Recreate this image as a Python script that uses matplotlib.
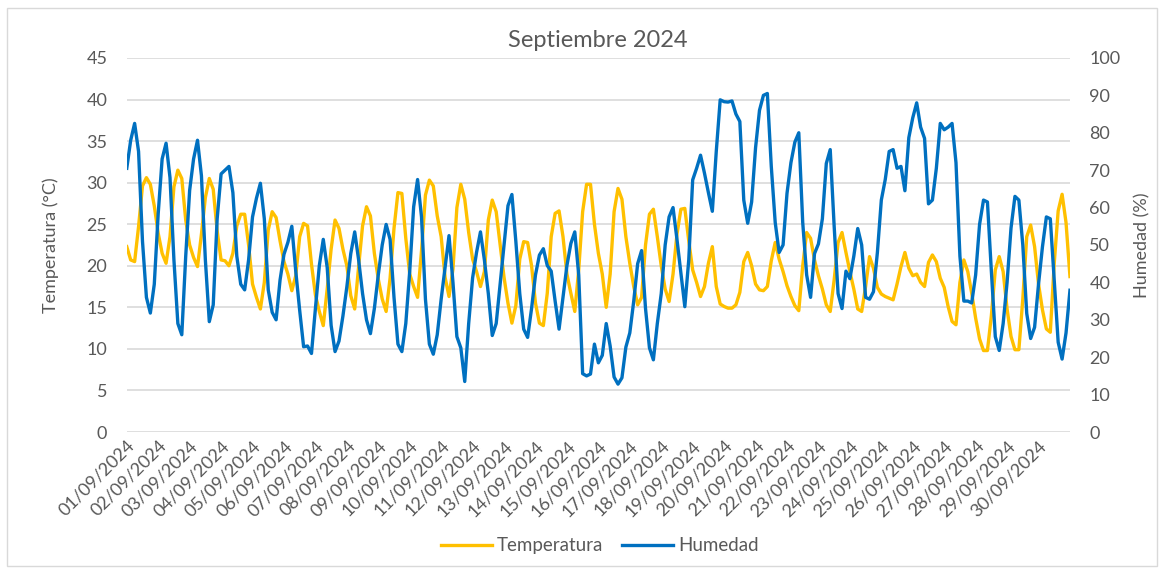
import pandas as pd
import matplotlib
matplotlib.use("Agg")
import matplotlib.pyplot as plt
import matplotlib.dates as mdates
from matplotlib.patches import Rectangle

plt.rcParams['font.family'] = ['Lato', 'DejaVu Sans']

# lecturas cada 3 horas (00, 03, 06, 09, 12, 15, 18, 21 h), una fila por dia
temperatura = [
    22.3, 20.7, 20.5, 24.7, 29.6, 30.6, 29.8, 27.2,   # 01/09
    23.9, 21.5, 20.3, 23.5, 29.5, 31.5, 30.5, 25.5,   # 02/09
    22.5, 21.0, 19.9, 23.8, 28.2, 30.5, 29.2, 24.2,   # 03/09
    20.7, 20.6, 20.0, 21.5, 24.8, 26.2, 26.2, 22.5,   # 04/09
    17.8, 16.2, 14.8, 18.0, 24.3, 26.5, 25.8, 23.0,   # 05/09
    20.5, 19.0, 17.0, 18.8, 23.5, 25.1, 24.8, 20.2,   # 06/09
    16.5, 14.5, 12.8, 17.2, 22.0, 25.5, 24.5, 22.0,   # 07/09
    20.0, 16.4, 14.8, 19.9, 24.8, 27.1, 26.0, 21.5,   # 08/09
    18.4, 16.0, 14.5, 18.5, 24.5, 28.8, 28.7, 23.3,   # 09/09
    19.0, 17.5, 16.2, 21.8, 28.5, 30.3, 29.6, 26.0,   # 10/09
    23.5, 18.6, 16.3, 19.6, 27.0, 29.8, 28.0, 24.0,   # 11/09
    20.8, 19.3, 17.5, 19.3, 25.5, 27.9, 26.5, 22.6,   # 12/09
    18.6, 15.5, 13.1, 15.2, 20.8, 22.9, 22.8, 20.0,   # 13/09
    15.5, 13.1, 12.8, 16.7, 23.5, 26.3, 26.6, 23.5,   # 14/09
    19.0, 16.7, 14.5, 19.5, 26.5, 29.8, 29.8, 25.0,   # 15/09
    21.5, 19.0, 15.0, 19.0, 26.5, 29.3, 28.0, 23.5,   # 16/09
    20.3, 17.5, 15.3, 16.2, 22.5, 26.2, 26.8, 23.5,   # 17/09
    20.0, 17.2, 15.7, 19.0, 23.8, 26.8, 26.9, 23.0,   # 18/09
    19.5, 18.0, 16.3, 17.5, 20.3, 22.3, 17.5, 15.4,   # 19/09
    15.1, 14.9, 14.9, 15.3, 16.8, 20.5, 21.6, 20.0,   # 20/09
    17.8, 17.1, 17.0, 17.5, 20.6, 22.8, 20.8, 19.3,   # 21/09
    17.6, 16.3, 15.2, 14.6, 20.0, 24.0, 23.3, 20.7,   # 22/09
    18.8, 17.2, 15.3, 14.5, 18.3, 22.8, 24.0, 21.6,   # 23/09
    19.3, 17.2, 14.8, 14.5, 17.5, 21.1, 19.7, 17.4,   # 24/09
    16.6, 16.3, 16.1, 15.9, 17.8, 19.9, 21.6, 19.7,   # 25/09
    18.8, 19.0, 18.0, 17.5, 20.4, 21.3, 20.5, 18.5,   # 26/09
    17.4, 15.1, 13.3, 12.9, 18.0, 20.7, 19.3, 16.7,   # 27/09
    13.7, 11.2, 9.8, 9.8, 14.0, 19.5, 21.1, 19.3,     # 28/09
    14.8, 11.5, 9.9, 9.9, 16.0, 23.5, 24.9, 22.3,     # 29/09
    17.8, 14.7, 12.4, 12.0, 20.3, 26.6, 28.6, 25.2,   # 30/09
    18.7,
]

humedad = [
    70.5, 78.0, 82.5, 75.0, 51.0, 36.0, 31.8, 39.5,   # 01/09
    58.4, 73.0, 77.2, 68.0, 46.0, 29.0, 26.0, 47.0,   # 02/09
    64.6, 73.0, 78.0, 68.5, 46.0, 29.5, 34.0, 57.0,   # 03/09
    69.0, 70.0, 71.0, 64.0, 47.0, 39.5, 38.0, 46.0,   # 04/09
    57.5, 62.5, 66.5, 57.0, 38.0, 32.0, 30.0, 40.6,   # 05/09
    47.5, 50.7, 55.0, 43.0, 32.5, 22.8, 23.0, 21.0,   # 06/09
    33.0, 44.5, 51.5, 44.0, 28.5, 21.5, 24.3, 31.0,   # 07/09
    38.8, 47.7, 53.5, 46.0, 37.0, 30.0, 26.3, 33.0,   # 08/09
    42.0, 50.0, 55.5, 51.5, 36.0, 23.5, 21.5, 29.0,   # 09/09
    43.0, 60.2, 67.5, 57.5, 35.5, 23.5, 20.8, 26.0,   # 10/09
    35.5, 44.0, 52.5, 40.0, 25.5, 22.5, 13.5, 29.0,   # 11/09
    41.2, 48.0, 53.5, 46.0, 37.0, 25.8, 29.0, 39.5,   # 12/09
    50.0, 60.5, 63.5, 51.0, 37.0, 27.5, 25.3, 33.0,   # 13/09
    42.0, 47.3, 49.0, 44.5, 43.0, 35.0, 27.5, 36.0,   # 14/09
    44.5, 50.4, 53.5, 42.0, 15.6, 15.0, 15.5, 23.5,   # 15/09
    18.5, 20.5, 29.0, 23.0, 14.7, 12.8, 14.5, 22.7,   # 16/09
    26.5, 35.0, 45.0, 48.5, 33.0, 22.5, 19.3, 29.0,   # 17/09
    37.0, 50.0, 57.5, 60.0, 51.5, 42.5, 33.5, 46.0,   # 18/09
    67.4, 70.5, 74.0, 69.2, 64.0, 59.0, 75.0, 88.8,   # 19/09
    88.3, 88.2, 88.5, 85.0, 83.0, 62.0, 55.8, 61.5,   # 20/09
    76.0, 86.0, 90.0, 90.5, 71.0, 56.0, 48.0, 50.0,   # 21/09
    63.8, 72.0, 77.5, 80.0, 56.0, 42.0, 36.0, 47.7,   # 22/09
    50.3, 57.0, 71.8, 75.5, 55.0, 37.0, 33.0, 43.0,   # 23/09
    41.0, 47.0, 54.4, 50.0, 36.0, 35.5, 37.5, 48.0,   # 24/09
    62.0, 67.5, 75.0, 75.5, 70.5, 71.0, 64.5, 78.7,   # 25/09
    84.0, 88.0, 81.5, 78.5, 61.0, 62.0, 70.5, 82.5,   # 26/09
    80.8, 81.5, 82.5, 72.0, 47.0, 35.0, 35.0, 34.5,   # 27/09
    42.0, 55.5, 62.0, 61.5, 43.0, 25.5, 21.8, 29.0,   # 28/09
    40.0, 54.5, 63.0, 62.0, 50.0, 31.7, 25.0, 28.0,   # 29/09
    39.5, 49.5, 57.5, 57.0, 40.5, 24.0, 19.5, 26.5,   # 30/09
    37.9,
]

fechas = pd.date_range("2024-09-01", periods=len(temperatura), freq="3h")
dias = pd.date_range("2024-09-01", "2024-09-30", freq="D")

gris = '#595959'
rejilla = '#D9D9D9'

fig = plt.figure(figsize=(11.63, 5.68), dpi=100)
ax = fig.add_axes([0.109, 0.2394, 0.811, 0.6586])
ax2 = ax.twinx()

l1, = ax.plot(fechas, temperatura, color='#FFC000', lw=2.4, label='Temperatura')
l2, = ax2.plot(fechas, humedad, color='#0070C0', lw=2.4, label='Humedad')

ax.set_ylim(0, 45)
ax.set_yticks(range(0, 46, 5))
ax2.set_ylim(0, 100)
ax2.set_yticks(range(0, 101, 10))
ax.set_xlim(pd.Timestamp("2024-09-01"), pd.Timestamp("2024-10-01"))
ax.set_xticks(dias)
ax.xaxis.set_major_formatter(mdates.DateFormatter('%d/%m/%Y'))

ax.grid(axis='y', color=rejilla, lw=1.2)
ax.set_axisbelow(True)
for a in (ax, ax2):
    for s in a.spines.values():
        s.set_visible(False)
    a.tick_params(length=0, colors=gris, labelsize=13)

ax.tick_params(axis='y', pad=14)
ax2.tick_params(axis='y', pad=14)
ax.tick_params(axis='x', labelsize=13, pad=4)
for lab in ax.get_xticklabels():
    lab.set_rotation(45)
    lab.set_ha('right')
    lab.set_rotation_mode('anchor')

ax.set_ylabel('Temperatura (°C)', color=gris, fontsize=13, labelpad=20)
ax2.set_ylabel('Humedad (%)', color=gris, fontsize=13, labelpad=10)
ax2.yaxis.set_label_position('right')

fig.text(0.514, 0.928, 'Septiembre 2024', ha='center', va='center', fontsize=17, color=gris)

fig.legend(handles=[l1, l2], loc='center', bbox_to_anchor=(0.516, 0.039), ncol=2,
           frameon=False, fontsize=13.5, handlelength=2.7, columnspacing=1.0,
           handletextpad=0.3, labelcolor=gris)

fig.patches.append(Rectangle((7 / 1163, 2 / 568), 1150 / 1163, 558 / 568,
                             transform=fig.transFigure, fill=False,
                             edgecolor=rejilla, lw=1))

fig.savefig('out.png', dpi=100)
